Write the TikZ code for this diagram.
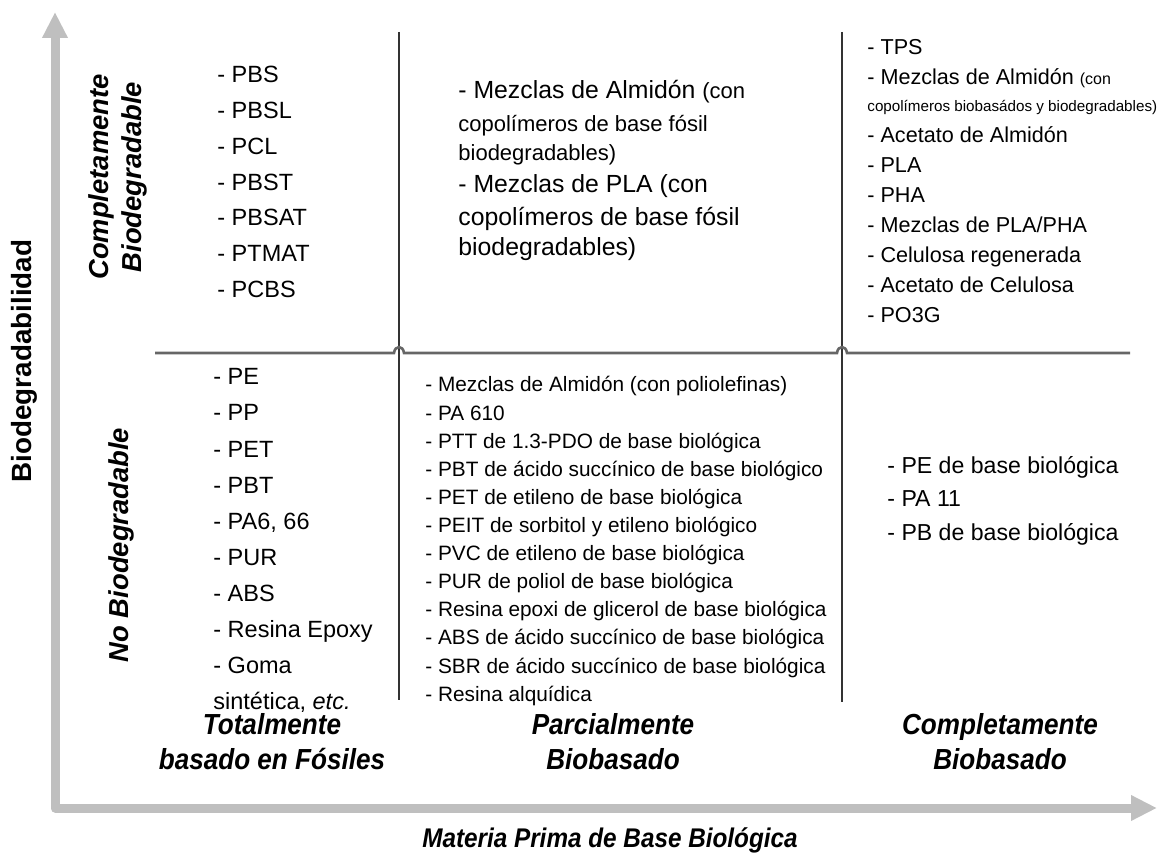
\documentclass[tikz,border=0pt]{standalone}
\usepackage{fontspec}
\setmainfont{Liberation Sans}
\newfontfamily\narrowfont[FakeStretch=0.9]{Liberation Sans}
\usetikzlibrary{arrows.meta}
\definecolor{axisgray}{HTML}{BFBFBF}
\tikzset{axis/.style = {draw=axisgray, line width=4.5pt, line join=round,
                        {Triangle[length=13pt, width=12pt]}-{Triangle[length=13pt, width=12pt]}}}
\tikzset{cellline/.style = {draw=black!80, line width=0.8pt}}
\tikzset{divider/.style = {draw=black!60, line width=1.3pt}}
\tikzset{item/.style = {anchor=base west, inner sep=0pt}}
\tikzset{axislabel/.style = {font=\fontsize{13.9}{16}\selectfont\bfseries}}
\tikzset{rowlabel/.style = {font=\fontsize{13.7}{16.5}\selectfont\bfseries\itshape, rotate=90, align=center}}
\tikzset{collabel/.style = {font=\narrowfont\fontsize{14.5}{17.5}\selectfont\bfseries\itshape, align=center}}
\newcommand{\leftsize}{\fontsize{11.75}{14}\selectfont}
\newcommand{\midsize}{\fontsize{10.4}{12.5}\selectfont}
\newcommand{\rightsize}{\fontsize{10.8}{13}\selectfont}

\begin{document}
\begin{tikzpicture}[x=0.5pt, y=-0.5pt]
    \useasboundingbox (0, 0) rectangle (1157, 866);

    % axes
    \coordinate (ytip) at (55, 12);
    \coordinate (origin) at (55, 808);
    \coordinate (xtip) at (1157, 808);
    \draw [axis] (ytip) -- (origin) -- (xtip);
    \node [axislabel, rotate=90] (ylab) at (24, 361) {Biodegradabilidad};
    \node [collabel, font=\narrowfont\fontsize{13.5}{16}\selectfont\bfseries\itshape] (xlab) at (610, 840) {Materia Prima de Base Biológica};

    % grid
    \coordinate (v1top) at (399, 32);
    \coordinate (v1bot) at (399, 700);
    \coordinate (v2top) at (842, 32);
    \coordinate (v2bot) at (842, 702);
    \coordinate (hl) at (155, 353);
    \coordinate (hr) at (1130, 353);
    \draw [cellline] (v1top) -- (v1bot);
    \draw [cellline] (v2top) -- (v2bot);
    \draw [divider] (hl) -- (394, 353) .. controls (395, 345) and (403, 345) .. (404, 353)
                         -- (837, 353) .. controls (838, 345) and (846, 345) .. (847, 353) -- (hr);

    % row and column labels
    \node [rowlabel] (rowbio) at (118, 177) {Completamente\\Biodegradable};
    \node [rowlabel] (rownobio) at (121, 545) {No Biodegradable};
    \node [collabel] (colfossil) at (272, 742) {Totalmente\\basado en Fósiles};
    \node [collabel] (colpart) at (613, 742) {Parcialmente\\Biobasado};
    \node [collabel] (colfull) at (1000, 742) {Completamente\\Biobasado};

    % fossil based
    \foreach \t [count=\i from 0] in {PBS, PBSL, PCL, PBST, PBSAT, PTMAT, PCBS}
        \node [item, font=\leftsize] (fb\i) at (217, {83 + 35.7*\i}) {- \t};
    \foreach \t [count=\i from 0] in {PE, PP, PET, PBT, {PA6, 66}, PUR, ABS, Resina Epoxy, Goma}
        \node [item, font=\leftsize] (fn\i) at (213, {385 + 36*\i}) {- \t};
    \node [item, font=\leftsize] (fn9) at (213, 709) {sintética, \textit{etc.}};

    % partially biobased
    \node [item, font=\fontsize{12.4}{15}\selectfont] (pb0) at (458, 99) {- Mezclas de Almidón {\fontsize{11}{13}\selectfont(con}};
    \node [item, font=\fontsize{11}{13}\selectfont] (pb1) at (458, 132) {copolímeros de base fósil};
    \node [item, font=\fontsize{11}{13}\selectfont] (pb2) at (458, 161) {biodegradables)};
    \node [item, font=\fontsize{12.4}{15}\selectfont] (pb3) at (458, 193) {- Mezclas de PLA (con};
    \node [item, font=\fontsize{12.4}{15}\selectfont] (pb4) at (458, 226) {copolímeros de base fósil};
    \node [item, font=\fontsize{12.4}{15}\selectfont] (pb5) at (458, 256) {biodegradables)};
    \foreach \t [count=\i from 0] in {Mezclas de Almidón (con poliolefinas), PA 610,
            PTT de 1.3-PDO de base biológica, PBT de ácido succínico de base biológico,
            PET de etileno de base biológica, PEIT de sorbitol y etileno biológico,
            PVC de etileno de base biológica, PUR de poliol de base biológica,
            Resina epoxi de glicerol de base biológica, ABS de ácido succínico de base biológica,
            SBR de ácido succínico de base biológica, Resina alquídica}
        \node [item, font=\midsize] (pn\i) at (425, {392 + 28.1*\i}) {- \t};

    % fully biobased
    \node [item, font=\rightsize] (cb0) at (867, 55) {- TPS};
    \node [item, font=\rightsize] (cb1) at (867, 85) {- Mezclas de Almidón {\fontsize{8}{10}\selectfont(con}};
    \node [item, font=\fontsize{7.6}{9}\selectfont] (cb2) at (867, 112) {copolímeros biobasádos y biodegradables)};
    \foreach \t [count=\i from 3] in {Acetato de Almidón, PLA, PHA, Mezclas de PLA/PHA,
            Celulosa regenerada, Acetato de Celulosa, PO3G}
        \node [item, font=\rightsize] (cb\i) at (867, {143 + 29.9*(\i-3)}) {- \t};
    \foreach \t [count=\i from 0] in {PE de base biológica, PA 11, PB de base biológica}
        \node [item, font=\fontsize{11.55}{14}\selectfont] (cn\i) at (887, {473 + 33.5*\i}) {- \t};
\end{tikzpicture}
\end{document}
